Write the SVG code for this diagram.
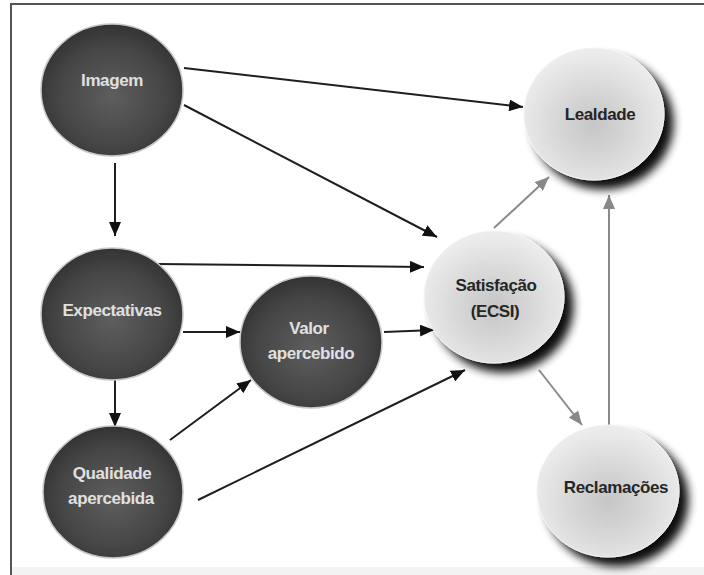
<svg xmlns="http://www.w3.org/2000/svg" width="704" height="575" viewBox="0 0 704 575">
<defs>
  <radialGradient id="darkFill" cx="50%" cy="55%" r="55%">
    <stop offset="0%" stop-color="#5e5e5e"/>
    <stop offset="70%" stop-color="#454545"/>
    <stop offset="100%" stop-color="#333333"/>
  </radialGradient>
  <radialGradient id="lightFill" cx="50%" cy="58%" r="55%">
    <stop offset="0%" stop-color="#c6c6c6"/>
    <stop offset="45%" stop-color="#d6d6d6"/>
    <stop offset="100%" stop-color="#ececec"/>
  </radialGradient>
  <filter id="shadow" x="-30%" y="-30%" width="170%" height="170%">
    <feGaussianBlur in="SourceAlpha" stdDeviation="5"/>
    <feOffset dx="9" dy="9" result="b"/>
    <feComponentTransfer><feFuncA type="linear" slope="0.95"/></feComponentTransfer>
    <feMerge><feMergeNode/><feMergeNode in="SourceGraphic"/></feMerge>
  </filter>
  <marker id="ahBlack" viewBox="0 0 14 12" refX="14" refY="6" markerWidth="14" markerHeight="12" markerUnits="userSpaceOnUse" orient="auto">
    <path d="M0,0 L14,6 L0,12 Z" fill="#111"/>
  </marker>
  <marker id="ahGray" viewBox="0 0 14 12" refX="14" refY="6" markerWidth="14" markerHeight="12" markerUnits="userSpaceOnUse" orient="auto">
    <path d="M0,0 L14,6 L0,12 Z" fill="#888"/>
  </marker>
</defs>
<style>
  .dark { fill: url(#darkFill); stroke: #c8c8c8; stroke-width: 1.5; }
  .light { fill: url(#lightFill); stroke: #f4f4f4; stroke-width: 1; filter: url(#shadow); }
  .tl { font-family: "Liberation Sans", Arial, sans-serif; font-weight: bold; font-size: 17px; letter-spacing: -0.4px; text-anchor: middle; fill: #e0e0e0; }
  .td { font-family: "Liberation Sans", Arial, sans-serif; font-weight: bold; font-size: 17px; letter-spacing: -0.4px; text-anchor: middle; fill: #262626; }
  .cb { stroke: #1e1e1e; stroke-width: 2; fill: none; marker-end: url(#ahBlack); }
  .cg { stroke: #8a8a8a; stroke-width: 2; fill: none; marker-end: url(#ahGray); }
</style>
<rect x="0" y="0" width="704" height="575" fill="#ffffff"/>
<rect x="11" y="567" width="693" height="8" fill="#f3f3f3"/>
<g id="frame">
  <line x1="10" y1="4" x2="704" y2="4" stroke="#555" stroke-width="2"/>
  <line x1="11" y1="3" x2="11" y2="575" stroke="#555" stroke-width="2"/>
</g>
<g id="connectors">
  <line class="cb" x1="184" y1="68" x2="523" y2="107"/>
  <line class="cb" x1="184" y1="105" x2="437" y2="237"/>
  <line class="cb" x1="115" y1="163" x2="115" y2="236"/>
  <line class="cb" x1="158" y1="264" x2="424" y2="267"/>
  <line class="cb" x1="183" y1="332" x2="240" y2="332"/>
  <line class="cb" x1="115" y1="380" x2="115" y2="427"/>
  <line class="cb" x1="170" y1="440" x2="251" y2="380"/>
  <line class="cb" x1="198" y1="500" x2="465" y2="370"/>
  <line class="cb" x1="384" y1="332" x2="434" y2="330"/>
  <line class="cg" x1="494" y1="228" x2="549" y2="177"/>
  <line class="cg" x1="539" y1="370" x2="582" y2="425"/>
  <line class="cg" x1="609" y1="425" x2="609" y2="195"/>
</g>
<g id="imagem">
  <ellipse class="dark" cx="112" cy="90" rx="71" ry="66"/>
  <text class="tl" x="112" y="86">Imagem</text>
</g>
<g id="expectativas">
  <ellipse class="dark" cx="112" cy="314" rx="71" ry="66"/>
  <text class="tl" x="112" y="316">Expectativas</text>
</g>
<g id="qualidade">
  <ellipse class="dark" cx="113" cy="492" rx="70" ry="66"/>
  <text class="tl" x="112" y="479">Qualidade</text>
  <text class="tl" x="111" y="504">apercebida</text>
</g>
<g id="valor">
  <ellipse class="dark" cx="311" cy="342" rx="71" ry="66"/>
  <text class="tl" x="309" y="334">Valor</text>
  <text class="tl" x="311" y="359">apercebido</text>
</g>
<g id="satisfacao">
  <ellipse class="light" cx="494" cy="297" rx="70" ry="66"/>
  <text class="td" x="496" y="291">Satisfação</text>
  <text class="td" x="495" y="317">(ECSI)</text>
</g>
<g id="lealdade">
  <ellipse class="light" cx="594" cy="114" rx="70" ry="66"/>
  <text class="td" x="600" y="120">Lealdade</text>
</g>
<g id="reclamacoes">
  <ellipse class="light" cx="608" cy="491" rx="71" ry="66"/>
  <text class="td" x="616" y="493">Reclamações</text>
</g>
</svg>
